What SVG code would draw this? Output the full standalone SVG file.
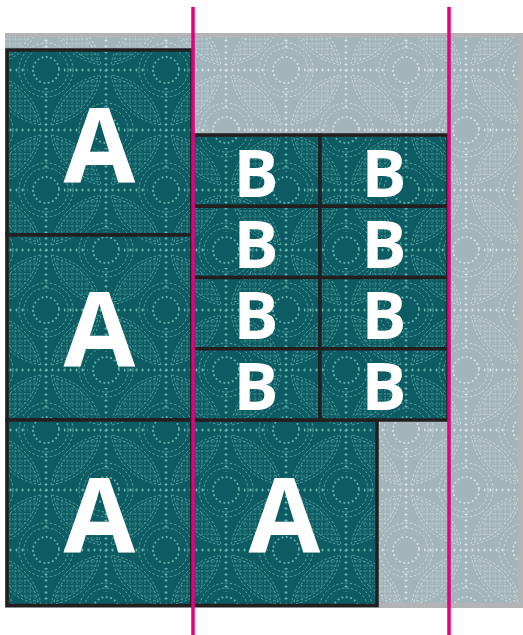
<svg xmlns="http://www.w3.org/2000/svg" xmlns:xlink="http://www.w3.org/1999/xlink" width="523" height="635" viewBox="0 0 523 635">
  <style>
    .piece { fill: url(#teal); stroke: #231f20; stroke-width: 3.5; }
    .lbl { font-family: "Open Sans", "Liberation Sans", sans-serif; font-weight: 700; fill: #ffffff; text-anchor: middle; }
    .la { font-size: 104px; }
    .lb { font-size: 67px; }
    .cut { stroke: #e5007d; stroke-width: 3.5; fill: none; }
    .dotring { stroke-width: 2; stroke-dasharray: 0.1 4.3; stroke-linecap: round; }
    .dash { stroke-width: 0.8; stroke-dasharray: 2.5 2; }
    .pv { stroke-width: 3; stroke-dasharray: 1 5; }
    .ph { stroke-width: 1; stroke-dasharray: 3 3; stroke-dashoffset: 1; }
    .hatch { stroke-width: 0.6; stroke-dasharray: 1.6 1.4; }
  </style>
  <defs>
    <clipPath id="lensClip" clipPathUnits="userSpaceOnUse">
      <path d="M52 8 Q43 43 8 52 Q17 17 52 8 Z"/>
    </clipPath>
    <g id="lens">
      <path class="dash" d="M52 8 Q43 43 8 52 Q17 17 52 8 Z"/>
      <path class="dash" d="M55 5 Q47 47 5 55 Q13 13 55 5 Z"/>
      <g clip-path="url(#lensClip)" class="hatch">
        <path d="M8 14H56M8 19H56M8 24H56M8 29H56M8 34H56M8 39H56M8 44H56M8 49H56M14 8V56M19 8V56M24 8V56M29 8V56M34 8V56M39 8V56M44 8V56M49 8V56"/>
      </g>
    </g>
    <g id="ring">
      <circle class="dotring" r="13"/>
      <circle class="dash" r="22"/>
      <circle class="dash" r="27"/>
    </g>
    <g id="motif" fill="none" stroke="currentColor">
      <use xlink:href="#ring" x="0" y="0"/>
      <use xlink:href="#ring" x="120" y="0"/>
      <use xlink:href="#ring" x="0" y="120"/>
      <use xlink:href="#ring" x="120" y="120"/>
      <use xlink:href="#ring" x="60" y="60"/>
      <path class="pv" d="M18 0H102M18 120H102M0 60H42M78 60H120"/>
      <path class="ph" d="M18 0H102M18 120H102M0 60H42M78 60H120"/>
      <path class="pv" d="M0 18V102M120 18V102M60 0V42M60 78V120"/>
      <path class="ph" d="M0 18V102M120 18V102M60 0V42M60 78V120"/>
      <use xlink:href="#lens"/>
      <use xlink:href="#lens" transform="translate(120 0) scale(-1 1)"/>
      <use xlink:href="#lens" transform="translate(0 120) scale(1 -1)"/>
      <use xlink:href="#lens" transform="translate(120 120) scale(-1 -1)"/>
    </g>
    <pattern id="teal" patternUnits="userSpaceOnUse" x="-14" y="10" width="120" height="120">
      <rect width="120" height="120" fill="#0e5c63"/>
      <use xlink:href="#motif" style="color:#5fb5ad"/>
    </pattern>
    <pattern id="grey" patternUnits="userSpaceOnUse" x="-14" y="10" width="120" height="120">
      <rect width="120" height="120" fill="#a3b4bb"/>
      <use xlink:href="#motif" style="color:#d8e3e6"/>
    </pattern>
  </defs>

  <g id="background-fabric">
    <rect x="5" y="33" width="518" height="575" fill="#b2b4b6"/>
    <rect x="5" y="37" width="513" height="566" fill="url(#grey)"/>
  </g>

  <g id="piece-A1">
    <rect class="piece" x="7" y="50" width="185" height="185"/>
    <text class="lbl la" x="99.5" y="183">A</text>
  </g>
  <g id="piece-A2">
    <rect class="piece" x="7" y="235" width="185" height="185"/>
    <text class="lbl la" x="99.5" y="367">A</text>
  </g>
  <g id="piece-A3">
    <rect class="piece" x="7" y="420" width="185" height="185.5"/>
    <text class="lbl la" x="99.5" y="553">A</text>
  </g>
  <g id="piece-A4">
    <rect class="piece" x="192" y="420" width="185" height="185.5"/>
    <text class="lbl la" x="284.5" y="553">A</text>
  </g>

  <g id="piece-B1">
    <rect class="piece" x="192" y="135" width="128" height="71.25"/>
    <text class="lbl lb" x="256" y="196.5">B</text>
  </g>
  <g id="piece-B2">
    <rect class="piece" x="320" y="135" width="128" height="71.25"/>
    <text class="lbl lb" x="384" y="196.5">B</text>
  </g>
  <g id="piece-B3">
    <rect class="piece" x="192" y="206.25" width="128" height="71.25"/>
    <text class="lbl lb" x="256" y="267.75">B</text>
  </g>
  <g id="piece-B4">
    <rect class="piece" x="320" y="206.25" width="128" height="71.25"/>
    <text class="lbl lb" x="384" y="267.75">B</text>
  </g>
  <g id="piece-B5">
    <rect class="piece" x="192" y="277.5" width="128" height="71.25"/>
    <text class="lbl lb" x="256" y="339">B</text>
  </g>
  <g id="piece-B6">
    <rect class="piece" x="320" y="277.5" width="128" height="71.25"/>
    <text class="lbl lb" x="384" y="339">B</text>
  </g>
  <g id="piece-B7">
    <rect class="piece" x="192" y="348.75" width="128" height="71.25"/>
    <text class="lbl lb" x="256" y="410.25">B</text>
  </g>
  <g id="piece-B8">
    <rect class="piece" x="320" y="348.75" width="128" height="71.25"/>
    <text class="lbl lb" x="384" y="410.25">B</text>
  </g>

  <g id="cut-lines">
    <line class="cut" x1="193" y1="7" x2="193" y2="635"/>
    <line class="cut" x1="449" y1="7" x2="449" y2="635"/>
  </g>
</svg>
